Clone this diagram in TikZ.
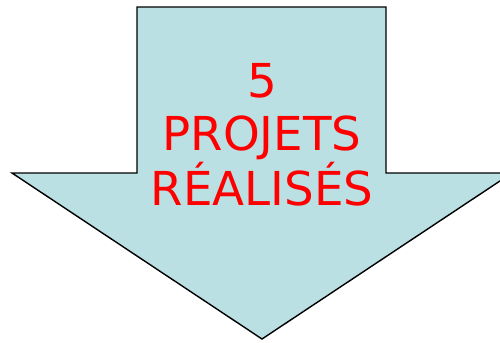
\documentclass[tikz,border=0pt]{standalone}
\usepackage{fontspec}
\setmainfont{DejaVu Sans}
\usepackage{xcolor}
\usepackage{tikz}
\usetikzlibrary{positioning}
\definecolor{arrowfill}{HTML}{BAE0E3}
\definecolor{labelred}{HTML}{FF0000}

\begin{document}
\begin{tikzpicture}[x=0.02cm, y=-0.02cm]
    \tikzstyle{arrowbody} = [draw=black, line width=0.8pt, fill=arrowfill, line join=miter]
    \tikzstyle{caption} = [text=labelred, font=\fontsize{26.6}{31}\selectfont, inner sep=0pt, anchor=base]

    \useasboundingbox (0,0) rectangle (500,342);
    \clip (0,0) rectangle (500,342);

    % the big arrow pointing down
    \draw [arrowbody] (137,7) -- (386,7) -- (386,173) -- (512,173) -- (262,339) -- (12,173) -- (137,173) -- cycle;

    \node (count) [caption] at (262,97) {5};
    \node (projets) [caption] at (262,150) {PROJETS};
    \node (realises) [caption] at (262,205) {RÉALISÉS};
\end{tikzpicture}
\end{document}
